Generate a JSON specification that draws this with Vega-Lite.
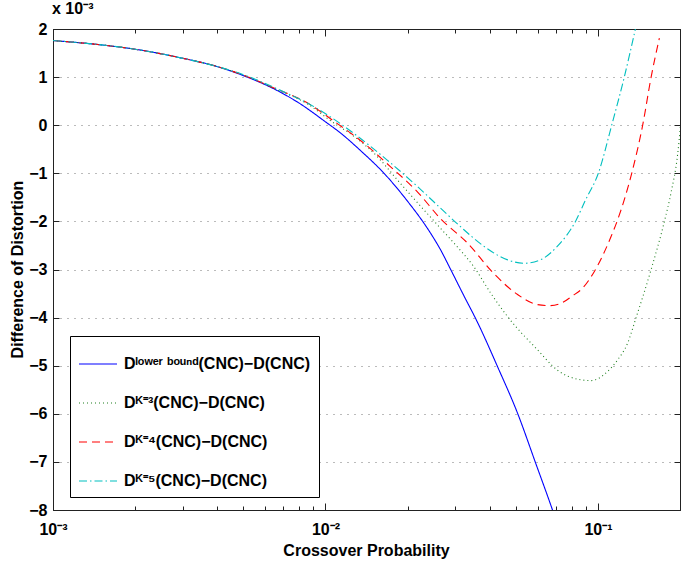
{
  "$schema": "https://vega.github.io/schema/vega-lite/v6.json",
  "width": 627,
  "height": 481,
  "autosize": {"type": "none"},
  "padding": {"left": 53, "top": 29, "right": 5, "bottom": 53},
  "background": "white",
  "title": {"text": "x 10⁻³", "anchor": "start", "frame": "group", "font": "Liberation Sans", "fontSize": 16, "fontWeight": "bold", "color": "#000", "offset": 4, "dx": -1},
  "data": {"values": [
    {"s": "lower bound", "p": 0.001, "d": 1.76},
    {"s": "lower bound", "p": 0.0015, "d": 1.67},
    {"s": "lower bound", "p": 0.002, "d": 1.58},
    {"s": "lower bound", "p": 0.003, "d": 1.39},
    {"s": "lower bound", "p": 0.004, "d": 1.22},
    {"s": "lower bound", "p": 0.005, "d": 1.03},
    {"s": "lower bound", "p": 0.0065, "d": 0.75},
    {"s": "lower bound", "p": 0.008, "d": 0.46},
    {"s": "lower bound", "p": 0.01, "d": 0.07},
    {"s": "lower bound", "p": 0.0114, "d": -0.17},
    {"s": "lower bound", "p": 0.0134, "d": -0.52},
    {"s": "lower bound", "p": 0.0164, "d": -1.0},
    {"s": "lower bound", "p": 0.02, "d": -1.58},
    {"s": "lower bound", "p": 0.0237, "d": -2.15},
    {"s": "lower bound", "p": 0.0265, "d": -2.6},
    {"s": "lower bound", "p": 0.0288, "d": -3.0},
    {"s": "lower bound", "p": 0.0323, "d": -3.56},
    {"s": "lower bound", "p": 0.036, "d": -4.08},
    {"s": "lower bound", "p": 0.0428, "d": -5.02},
    {"s": "lower bound", "p": 0.0507, "d": -5.99},
    {"s": "lower bound", "p": 0.0591, "d": -7.03},
    {"s": "lower bound", "p": 0.0681, "d": -8.0},
    {"s": "lower bound", "p": 0.072, "d": -8.4},
    {"s": "K=3", "p": 0.001, "d": 1.76},
    {"s": "K=3", "p": 0.002, "d": 1.58},
    {"s": "K=3", "p": 0.003, "d": 1.39},
    {"s": "K=3", "p": 0.004, "d": 1.22},
    {"s": "K=3", "p": 0.005, "d": 1.04},
    {"s": "K=3", "p": 0.0065, "d": 0.76},
    {"s": "K=3", "p": 0.0086, "d": 0.44},
    {"s": "K=3", "p": 0.0107, "d": 0.05},
    {"s": "K=3", "p": 0.0125, "d": -0.2},
    {"s": "K=3", "p": 0.01505, "d": -0.58},
    {"s": "K=3", "p": 0.0189, "d": -1.22},
    {"s": "K=3", "p": 0.0224, "d": -1.69},
    {"s": "K=3", "p": 0.0265, "d": -2.15},
    {"s": "K=3", "p": 0.0296, "d": -2.45},
    {"s": "K=3", "p": 0.035, "d": -2.94},
    {"s": "K=3", "p": 0.0405, "d": -3.5},
    {"s": "K=3", "p": 0.0466, "d": -3.98},
    {"s": "K=3", "p": 0.06, "d": -4.67},
    {"s": "K=3", "p": 0.0709, "d": -5.09},
    {"s": "K=3", "p": 0.0841, "d": -5.28},
    {"s": "K=3", "p": 0.094, "d": -5.31},
    {"s": "K=3", "p": 0.1085, "d": -5.12},
    {"s": "K=3", "p": 0.118, "d": -4.88},
    {"s": "K=3", "p": 0.1285, "d": -4.53},
    {"s": "K=3", "p": 0.138, "d": -4.0},
    {"s": "K=3", "p": 0.1567, "d": -3.0},
    {"s": "K=3", "p": 0.1753, "d": -2.0},
    {"s": "K=3", "p": 0.1853, "d": -1.41},
    {"s": "K=3", "p": 0.1963, "d": -0.58},
    {"s": "K=3", "p": 0.205, "d": 0.6},
    {"s": "K=4", "p": 0.001, "d": 1.76},
    {"s": "K=4", "p": 0.0015, "d": 1.67},
    {"s": "K=4", "p": 0.002, "d": 1.58},
    {"s": "K=4", "p": 0.003, "d": 1.39},
    {"s": "K=4", "p": 0.004, "d": 1.22},
    {"s": "K=4", "p": 0.005, "d": 1.04},
    {"s": "K=4", "p": 0.0065, "d": 0.77},
    {"s": "K=4", "p": 0.0086, "d": 0.46},
    {"s": "K=4", "p": 0.0107, "d": 0.09},
    {"s": "K=4", "p": 0.0138, "d": -0.37},
    {"s": "K=4", "p": 0.0173, "d": -0.86},
    {"s": "K=4", "p": 0.0217, "d": -1.38},
    {"s": "K=4", "p": 0.0265, "d": -1.95},
    {"s": "K=4", "p": 0.0332, "d": -2.45},
    {"s": "K=4", "p": 0.0414, "d": -3.08},
    {"s": "K=4", "p": 0.0507, "d": -3.52},
    {"s": "K=4", "p": 0.06, "d": -3.73},
    {"s": "K=4", "p": 0.067, "d": -3.75},
    {"s": "K=4", "p": 0.074, "d": -3.69},
    {"s": "K=4", "p": 0.08, "d": -3.56},
    {"s": "K=4", "p": 0.0877, "d": -3.39},
    {"s": "K=4", "p": 0.097, "d": -3.04},
    {"s": "K=4", "p": 0.1116, "d": -2.32},
    {"s": "K=4", "p": 0.118, "d": -1.97},
    {"s": "K=4", "p": 0.133, "d": -1.0},
    {"s": "K=4", "p": 0.1459, "d": 0.0},
    {"s": "K=4", "p": 0.1567, "d": 1.0},
    {"s": "K=4", "p": 0.168, "d": 1.81},
    {"s": "K=5", "p": 0.001, "d": 1.76},
    {"s": "K=5", "p": 0.002, "d": 1.58},
    {"s": "K=5", "p": 0.003, "d": 1.39},
    {"s": "K=5", "p": 0.004, "d": 1.22},
    {"s": "K=5", "p": 0.005, "d": 1.05},
    {"s": "K=5", "p": 0.0065, "d": 0.78},
    {"s": "K=5", "p": 0.0093, "d": 0.35},
    {"s": "K=5", "p": 0.0127, "d": -0.17},
    {"s": "K=5", "p": 0.0168, "d": -0.72},
    {"s": "K=5", "p": 0.0217, "d": -1.27},
    {"s": "K=5", "p": 0.0265, "d": -1.73},
    {"s": "K=5", "p": 0.0313, "d": -2.11},
    {"s": "K=5", "p": 0.0382, "d": -2.52},
    {"s": "K=5", "p": 0.0466, "d": -2.8},
    {"s": "K=5", "p": 0.0535, "d": -2.87},
    {"s": "K=5", "p": 0.0614, "d": -2.8},
    {"s": "K=5", "p": 0.0709, "d": -2.52},
    {"s": "K=5", "p": 0.0827, "d": -2.0},
    {"s": "K=5", "p": 0.0901, "d": -1.55},
    {"s": "K=5", "p": 0.1003, "d": -1.0},
    {"s": "K=5", "p": 0.1123, "d": 0.0},
    {"s": "K=5", "p": 0.1249, "d": 1.0},
    {"s": "K=5", "p": 0.1372, "d": 2.0}
  ]},
  "layer": [
    {
      "mark": {"type": "line", "strokeWidth": 1.1, "clip": true, "interpolate": "monotone"},
      "encoding": {
        "x": {"field": "p", "type": "quantitative", "scale": {"type": "log", "domain": [0.001, 0.2]},
          "axis": {"title": "Crossover Probability", "orient": "bottom", "grid": false,
            "values": [0.001,0.002,0.003,0.004,0.005,0.006,0.007,0.008,0.009,0.01,0.02,0.03,0.04,0.05,0.06,0.07,0.08,0.09,0.1,0.2],
            "labelExpr": "datum.value == 0.001 ? '10⁻³' : datum.value == 0.01 ? '10⁻²' : datum.value == 0.1 ? '10⁻¹' : ''",
            "labelOverlap": false, "labelFlush": false,
            "tickSize": {"condition": {"test": "datum.value == 0.001 || datum.value == 0.01 || datum.value == 0.1", "value": -7}, "value": -4},
            "labelPadding": 18, "titleX": 313, "titleY": 45, "titleBaseline": "alphabetic", "titleAlign": "center"}},
        "y": {"field": "d", "type": "quantitative", "scale": {"domain": [-8, 2], "nice": false},
          "axis": {"title": "Difference of Distortion", "orient": "left", "grid": true,
            "values": [-8,-7,-6,-5,-4,-3,-2,-1,0,1,2], "format": "d",
            "tickSize": -6, "labelPadding": 12,
            "titleX": -36, "titleY": 240, "titleAngle": -90, "titleBaseline": "middle", "titleAlign": "center"}},
        "color": {"field": "s", "type": "nominal",
          "scale": {"domain": ["lower bound", "K=3", "K=4", "K=5"], "range": ["#0000ff", "#1f7f1f", "#ff0000", "#00bfbf"]},
          "legend": {"title": null,
            "labelExpr": "datum.label == 'lower bound' ? 'Dˡᵒʷᵉʳ ᵇᵒᵘⁿᵈ(CNC)−D(CNC)' : datum.label == 'K=3' ? 'Dᴷ⁼³(CNC)−D(CNC)' : datum.label == 'K=4' ? 'Dᴷ⁼⁴(CNC)−D(CNC)' : 'Dᴷ⁼⁵(CNC)−D(CNC)'",
            "encode": {"symbols": {"update": {"strokeDash": {"signal": "datum.value == 'K=3' ? [1, 3] : datum.value == 'K=4' ? [8, 5] : datum.value == 'K=5' ? [8, 3, 1.5, 3] : [1, 0]"}}}}}},
        "strokeDash": {"field": "s", "type": "nominal",
          "scale": {"domain": ["lower bound", "K=3", "K=4", "K=5"], "range": [[1, 0], [1, 3], [8, 5], [8, 3, 1.5, 3]]},
          "legend": null}
      }
    },
    {
      "mark": {"type": "line", "opacity": 0, "clip": true},
      "encoding": {
        "x": {"field": "p", "type": "quantitative", "scale": {"type": "log", "domain": [0.001, 0.2]},
          "axis": {"title": null, "orient": "top", "grid": false, "labels": false,
            "values": [0.001,0.002,0.003,0.004,0.005,0.006,0.007,0.008,0.009,0.01,0.02,0.03,0.04,0.05,0.06,0.07,0.08,0.09,0.1,0.2],
            "tickSize": {"condition": {"test": "datum.value == 0.001 || datum.value == 0.01 || datum.value == 0.1", "value": -7}, "value": -4}}},
        "y": {"field": "d", "type": "quantitative", "scale": {"domain": [-8, 2], "nice": false},
          "axis": {"title": null, "orient": "right", "grid": false, "labels": false,
            "values": [-8,-7,-6,-5,-4,-3,-2,-1,0,1,2], "tickSize": -6}},
        "detail": {"field": "s", "type": "nominal"}
      }
    }
  ],
  "resolve": {"axis": {"x": "independent", "y": "independent"}},
  "config": {
    "view": {"stroke": "#222", "strokeWidth": 1},
    "axis": {
      "domain": true, "domainColor": "#222", "domainWidth": 1,
      "tickColor": "#222", "tickWidth": 1,
      "labelFont": "Liberation Sans", "labelFontSize": 16, "labelFontWeight": "bold", "labelColor": "#000",
      "titleFont": "Liberation Sans", "titleFontSize": 16, "titleFontWeight": "bold", "titleColor": "#000",
      "gridColor": "#777", "gridDash": [1, 6], "gridWidth": 1, "gridOpacity": 1
    },
    "legend": {
      "orient": "none", "legendX": 17, "legendY": 307,
      "strokeColor": "#000", "fillColor": "#fff", "padding": 8,
      "symbolType": "stroke", "symbolSize": 1444, "symbolStrokeWidth": 1.1,
      "labelFont": "Liberation Sans", "labelFontSize": 16, "labelFontWeight": "bold", "labelColor": "#000",
      "labelLimit": 400, "rowPadding": 11, "labelOffset": 6
    }
  }
}
